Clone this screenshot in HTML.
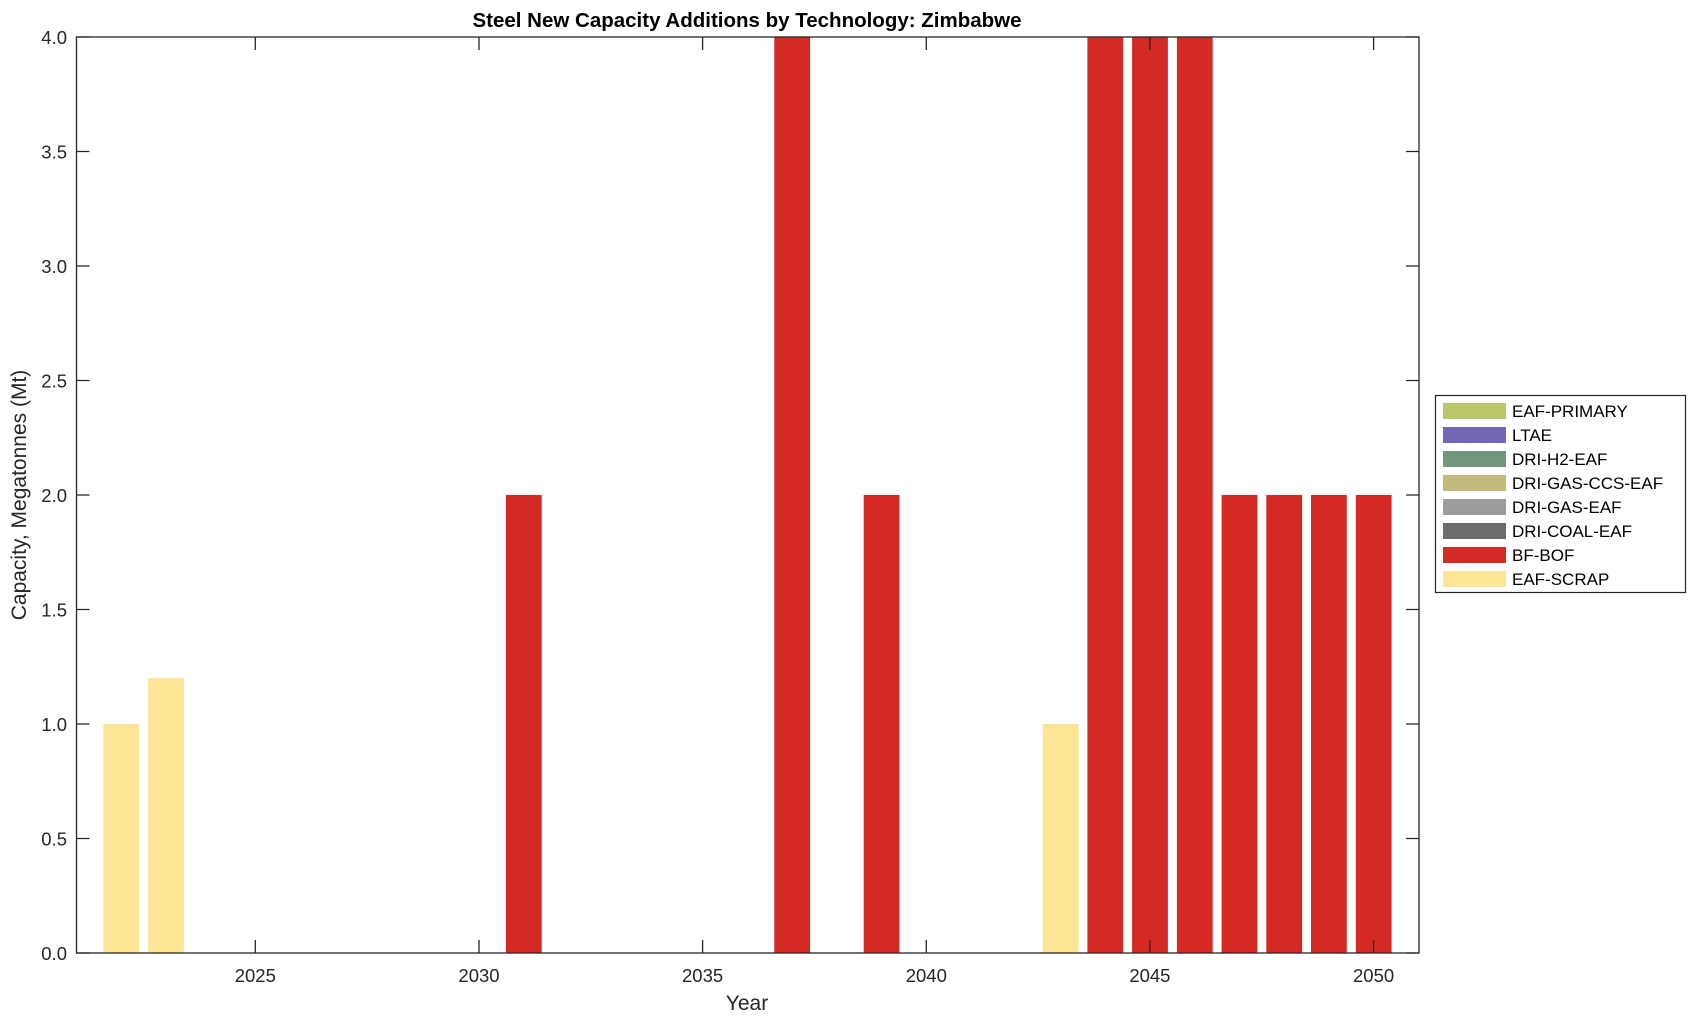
<!DOCTYPE html>
<html><head><meta charset="utf-8"><style>
html,body{margin:0;padding:0;background:#fff;}
svg{display:block;font-family:"Liberation Sans",Arial,sans-serif;}
</style></head><body>
<svg width="1696" height="1021" viewBox="0 0 1696 1021" xmlns="http://www.w3.org/2000/svg">
<g>
<rect x="103.3" y="724" width="35.8" height="229" fill="#fee595"/>
<rect x="148.1" y="678.2" width="35.8" height="274.8" fill="#fee595"/>
<rect x="505.9" y="495" width="35.8" height="458" fill="#d42a24"/>
<rect x="774.3" y="37" width="35.8" height="916" fill="#d42a24"/>
<rect x="863.7" y="495" width="35.8" height="458" fill="#d42a24"/>
<rect x="1042.7" y="724" width="35.8" height="229" fill="#fee595"/>
<rect x="1087.4" y="37" width="35.8" height="916" fill="#d42a24"/>
<rect x="1132.1" y="37" width="35.8" height="916" fill="#d42a24"/>
<rect x="1176.9" y="37" width="35.8" height="916" fill="#d42a24"/>
<rect x="1221.6" y="495" width="35.8" height="458" fill="#d42a24"/>
<rect x="1266.3" y="495" width="35.8" height="458" fill="#d42a24"/>
<rect x="1311.0" y="495" width="35.8" height="458" fill="#d42a24"/>
<rect x="1355.8" y="495" width="35.8" height="458" fill="#d42a24"/>
</g>
<g fill="none" stroke="#262626" stroke-width="1.3">
<rect x="76.5" y="37" width="1342.5" height="916"/>
<path d="M255.3 953v-13M255.3 37v13M479 953v-13M479 37v13M702.6 953v-13M702.6 37v13M926.3 953v-13M926.3 37v13M1149.9 953v-13M1149.9 37v13M1373.6 953v-13M1373.6 37v13"/>
<path d="M76.5 953h13M76.5 838.5h13M76.5 724h13M76.5 609.5h13M76.5 495h13M76.5 380.5h13M76.5 266h13M76.5 151.5h13M76.5 37h13"/>
<path d="M1419 953h-13M1419 838.5h-13M1419 724h-13M1419 609.5h-13M1419 495h-13M1419 380.5h-13M1419 266h-13M1419 151.5h-13M1419 37h-13"/>
</g>
<g fill="#262626" font-size="18.5" text-anchor="end">
<text x="67" y="960">0.0</text><text x="67" y="845.5">0.5</text><text x="67" y="731">1.0</text><text x="67" y="616.5">1.5</text><text x="67" y="502">2.0</text><text x="67" y="387.5">2.5</text><text x="67" y="273">3.0</text><text x="67" y="158.5">3.5</text><text x="67" y="44">4.0</text>
</g>
<g fill="#262626" font-size="18.5" text-anchor="middle">
<text x="255.3" y="982">2025</text><text x="479" y="982">2030</text><text x="702.6" y="982">2035</text><text x="926.3" y="982">2040</text><text x="1149.9" y="982">2045</text><text x="1373.6" y="982">2050</text>
<text x="747" y="1010" font-size="21">Year</text>
<text transform="translate(26,495) rotate(-90)" font-size="21">Capacity, Megatonnes (Mt)</text>
<text x="747" y="27" font-size="20.5" font-weight="bold" fill="#000">Steel New Capacity Additions by Technology: Zimbabwe</text>
</g>
<rect x="1435.5" y="395.5" width="250" height="197" fill="#fff" stroke="#262626" stroke-width="1.2"/>
<g>
<rect x="1443" y="403" width="63" height="16" fill="#bcc66b"/>
<rect x="1443" y="427" width="63" height="16" fill="#7268b5"/>
<rect x="1443" y="451" width="63" height="16" fill="#72967c"/>
<rect x="1443" y="475" width="63" height="16" fill="#c3bb7d"/>
<rect x="1443" y="499" width="63" height="16" fill="#9c9c9c"/>
<rect x="1443" y="523" width="63" height="16" fill="#6c6c6c"/>
<rect x="1443" y="547" width="63" height="16" fill="#d42a24"/>
<rect x="1443" y="571" width="63" height="16" fill="#fee595"/>
</g>
<g fill="#000" font-size="17">
<text x="1512" y="417">EAF-PRIMARY</text>
<text x="1512" y="441">LTAE</text>
<text x="1512" y="465">DRI-H2-EAF</text>
<text x="1512" y="489">DRI-GAS-CCS-EAF</text>
<text x="1512" y="513">DRI-GAS-EAF</text>
<text x="1512" y="537">DRI-COAL-EAF</text>
<text x="1512" y="561">BF-BOF</text>
<text x="1512" y="585">EAF-SCRAP</text>
</g>
</svg>
</body></html>
